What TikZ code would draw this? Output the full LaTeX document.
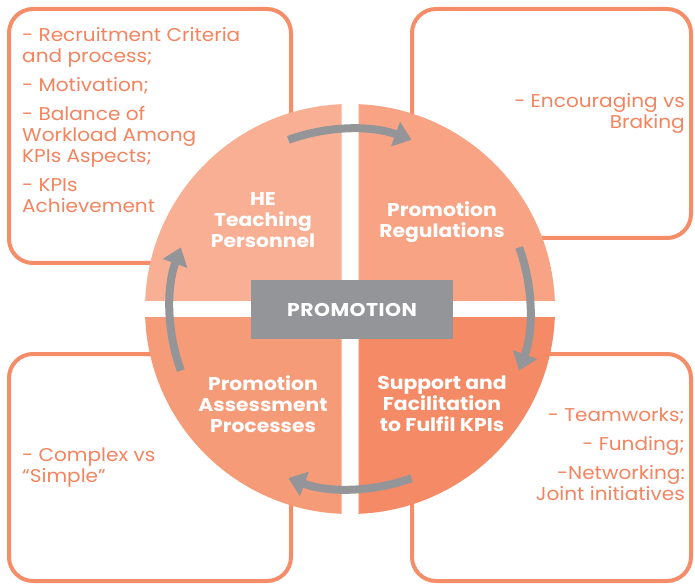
\documentclass[tikz,border=0pt]{standalone}
\usepackage{fontspec}
\setmainfont{Poppins}[FakeStretch=1.085, BoldFeatures={FakeStretch=1.1}]
\newfontfamily\promofont{Poppins}[FakeStretch=1.1, LetterSpace=2.5]
\usepackage{tikz}
\usetikzlibrary{arrows.meta}
\usetikzlibrary{calc}
\definecolor{boxline}{HTML}{F58D69}
\definecolor{boxtext}{HTML}{F4845F}
\definecolor{quadA}{HTML}{F8AF93}
\definecolor{quadB}{HTML}{F7A384}
\definecolor{quadC}{HTML}{F69B78}
\definecolor{quadD}{HTML}{F58B66}
\definecolor{flowgray}{HTML}{939598}
\tikzset{side box/.style={draw=boxline,line width=4pt,rounded corners=24pt,fill=white},
  side text/.style={text=boxtext,inner sep=0pt,font=\fontsize{18.5}{21}\selectfont},
  quad text/.style={text=white,align=center,inner sep=0pt,font=\fontsize{18.5}{21}\selectfont\bfseries},
  flow arrow/.style={draw=flowgray,line width=8pt,-{Triangle[length=17pt,width=25pt]}},}

\begin{document}
\begin{tikzpicture}[x=1pt, y=1pt]
	\useasboundingbox (0,0) rectangle (695,584);
	\coordinate (c) at (350,275);

	\draw[side box] (9,575) rectangle (291,321);
	\draw[side box] (412,575) rectangle (691,346);
	\draw[side box] (9,230) rectangle (291,3);
	\draw[side box] (412,230) rectangle (691,3);

	\node[side text, anchor=north west, align=left] (tl) at (22,557)
	  {- Recruitment Criteria\\and process;\\[8pt]- Motivation;\\[8pt]- Balance of\\Workload Among\\KPIs Aspects;\\[8pt]- KPIs\\Achievement};
	\node[side text, anchor=north east, align=right] (tr) at (685,491)
	  {- Encouraging vs\\Braking};
	\node[side text, anchor=north west, align=left] (bl) at (22,136)
	  {- Complex vs\\“Simple”};
	\node[side text, anchor=north east, align=right] (br) at (685,176)
	  {- Teamworks;\\[8pt]- Funding;\\[8pt]-Networking:\\Joint initiatives};

	\begin{scope}
	  \clip ($(c)+(-220,8.5)$) rectangle ($(c)+(-8.5,220)$);
	  \fill[quadA] (c) circle[radius=205pt];
	\end{scope}
	\begin{scope}
	  \clip ($(c)+(8.5,8.5)$) rectangle ($(c)+(220,220)$);
	  \fill[quadB] (c) circle[radius=205pt];
	\end{scope}
	\begin{scope}
	  \clip ($(c)+(-220,-8.5)$) rectangle ($(c)+(-8.5,-220)$);
	  \fill[quadC] (c) circle[radius=205pt];
	\end{scope}
	\begin{scope}
	  \clip ($(c)+(8.5,-8.5)$) rectangle ($(c)+(220,-220)$);
	  \fill[quadD] (c) circle[radius=205pt];
	\end{scope}

	\node[fill=flowgray, minimum width=202pt, minimum height=59pt, inner sep=0pt,
	  text=white, font=\fontsize{18.5}{21}\selectfont\promofont\bfseries] (promo) at (352,274.5) {PROMOTION};

	\node[quad text] (he) at (263,364) {HE\\Teaching\\Personnel};
	\node[quad text] (reg) at (442,362) {Promotion\\Regulations};
	\node[quad text] (ass) at (263,180) {Promotion\\Assessment\\Processes};
	\node[quad text] (sup) at (442,180) {Support and\\Facilitation\\to Fulfil KPIs};

	\coordinate (top start) at ($(c)+(110:180)$);
	\coordinate (right start) at ($(c)+(20:180)$);
	\coordinate (bottom start) at ($(c)+(-70:180)$);
	\coordinate (left start) at ($(c)+(200:180)$);

	\draw[flow arrow] (top start) arc[start angle=110, end angle=70, radius=180pt];
	\draw[flow arrow] (right start) arc[start angle=20, end angle=-20, radius=180pt];
	\draw[flow arrow] (bottom start) arc[start angle=-70, end angle=-110, radius=180pt];
	\draw[flow arrow] (left start) arc[start angle=200, end angle=160, radius=180pt];
\end{tikzpicture}
\end{document}
